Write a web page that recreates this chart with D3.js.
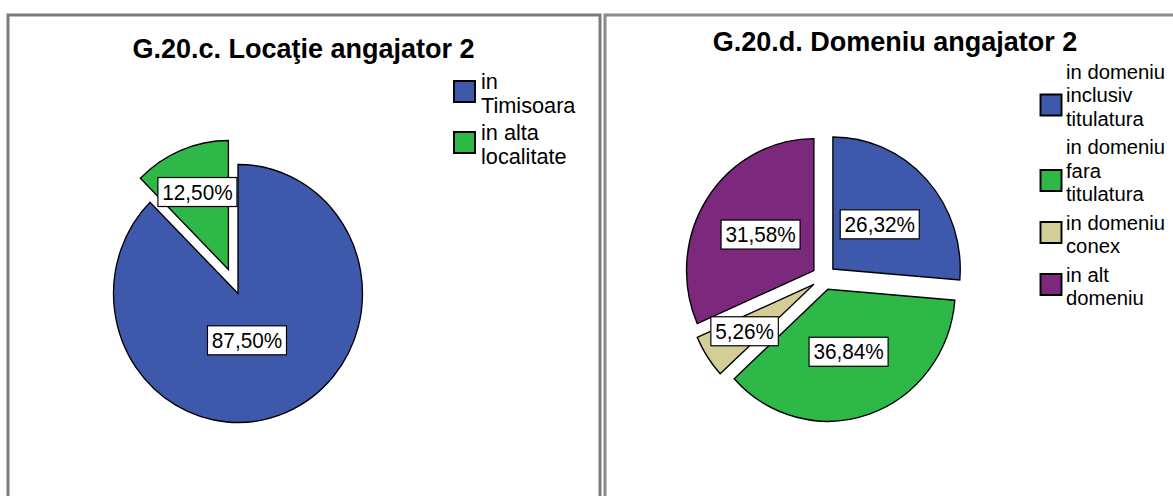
<!DOCTYPE html>
<html>
<head>
<meta charset="utf-8">
<script src="https://cdn.jsdelivr.net/npm/d3@7"></script>
<style>
  html, body { margin: 0; padding: 0; background: #fff; }
  svg { display: block; }
  text { font-family: "Liberation Sans", Arial, sans-serif; }
</style>
</head>
<body>
<svg id="chart" width="1173" height="496"></svg>
<script>
// ---- Data ----
const leftTitle = "G.20.c. Locaţie angajator 2";
const leftCategories = ["in Timisoara", "in alta localitate"];
const leftLegendLines = [["in", "Timisoara"], ["in alta", "localitate"]];
const leftValues = [87.50, 12.50];

const rightTitle = "G.20.d. Domeniu angajator 2";
const rightCategories = ["in domeniu inclusiv titulatura", "in domeniu fara titulatura", "in domeniu conex", "in alt domeniu"];
const rightLegendLines = [["in domeniu", "inclusiv", "titulatura"], ["in domeniu", "fara", "titulatura"], ["in domeniu", "conex"], ["in alt", "domeniu"]];
const rightValues = [26.32, 36.84, 5.26, 31.58];

const leftColors = ["#3E58AC", "#2EB848"];
const rightColors = ["#3E58AC", "#2EB848", "#D3CE97", "#7C287D"];

// ---- Layout ----
const K = 0.965; // horizontal squeeze of the original rendering
const X = x => x / K;
const svg = d3.select("#chart");

// panel borders (screen coordinates)
svg.append("rect").attr("x", 8).attr("y", 15).attr("width", 592).attr("height", 520)
  .attr("fill", "none").attr("stroke", "#7b7b7b").attr("stroke-width", 3);
svg.append("rect").attr("x", 605).attr("y", 15).attr("width", 620).attr("height", 520)
  .attr("fill", "none").attr("stroke", "#8a8a8a").attr("stroke-width", 3);

const root = svg.append("g").attr("transform", `scale(${K},1)`);
const fmt = v => v.toFixed(2).replace(".", ",") + "%";

function drawPie(cfg) {
  const g = root.append("g");
  const pie = d3.pie().sort(null).value(d => d);
  const arcs = pie(cfg.values);
  const arc = d3.arc().innerRadius(0).outerRadius(cfg.r);
  const off = d => {
    const m = (d.startAngle + d.endAngle) / 2;
    const e = cfg.explode[d.index];
    return [Math.sin(m) * e, -Math.cos(m) * e, m];
  };
  g.selectAll("path.slice").data(arcs).join("path")
    .attr("class", "slice")
    .attr("d", arc)
    .attr("transform", d => { const o = off(d); return `translate(${cfg.cx + o[0]},${cfg.cy + o[1]})`; })
    .attr("fill", d => cfg.colors[d.index])
    .attr("stroke", "#000").attr("stroke-width", 1.4).attr("stroke-linejoin", "miter");

  const lab = g.selectAll("g.lab").data(arcs).join("g").attr("class", "lab")
    .attr("transform", d => {
      const o = off(d);
      // dominant slice (> 50%): label drops toward the bottom of the pie
      const ang = d.data > 50 ? (o[2] + Math.PI) / 2 : o[2];
      const frac = d.data > 50 ? 0.37 : (d.data < 15 ? 0.65 : 0.5);
      const lx = cfg.cx + o[0] + Math.sin(ang) * frac * cfg.r;
      const ly = cfg.cy + o[1] - Math.cos(ang) * frac * cfg.r;
      return `translate(${lx},${ly})`;
    });
  lab.append("rect").attr("fill", "#fff").attr("stroke", "#000").attr("stroke-width", 1.2);
  lab.append("text").attr("text-anchor", "middle").attr("y", cfg.labelSize * 0.36)
    .attr("font-size", cfg.labelSize).attr("fill", "#000").text(d => fmt(d.data));
  lab.each(function() {
    const t = d3.select(this).select("text").node();
    const w = t.getComputedTextLength() + 9;
    const h = 29;
    d3.select(this).select("rect").attr("x", -w / 2).attr("y", -h / 2).attr("width", w).attr("height", h);
  });

  // title
  root.append("text").attr("x", X(cfg.titleX)).attr("y", cfg.titleY)
    .attr("text-anchor", "middle").attr("font-weight", "bold").attr("font-size", 28)
    .attr("fill", "#000").text(cfg.title);

  // legend
  let y = cfg.legendY;
  cfg.legendLines.forEach((lines, i) => {
    const base = [];
    lines.forEach((ln, j) => {
      base.push(y);
      root.append("text").attr("x", X(cfg.legendTextX)).attr("y", y)
        .attr("font-size", cfg.legendSize).attr("fill", "#000").text(ln);
      if (j < lines.length - 1) y += cfg.lineH;
    });
    const sc = base[Math.floor((lines.length - 1) / 2)] + 2.5;
    root.append("rect").attr("x", X(cfg.legendBoxX)).attr("y", sc - 10.5)
      .attr("width", 21 / K).attr("height", 21)
      .attr("fill", cfg.colors[i]).attr("stroke", "#000").attr("stroke-width", 2);
    y += cfg.lineH + cfg.itemGap;
  });
}

drawPie({
  values: leftValues, colors: leftColors, title: leftTitle, legendLines: leftLegendLines,
  cx: X(238), cy: 293.5, r: 129, explode: [0, 26], labelSize: 21.5,
  titleX: 303.5, titleY: 58,
  legendY: 89, legendTextX: 481, legendBoxX: 454, legendSize: 22.5, lineH: 24, itemGap: 3
});

drawPie({
  values: rightValues, colors: rightColors, title: rightTitle, legendLines: rightLegendLines,
  cx: X(824), cy: 277.5, r: 132, explode: [12.5, 12.5, 12.5, 12.5], labelSize: 21.5,
  titleX: 895, titleY: 51,
  legendY: 79, legendTextX: 1066, legendBoxX: 1040.5, legendSize: 21, lineH: 23.5, itemGap: 5
});
</script>
</body>
</html>
